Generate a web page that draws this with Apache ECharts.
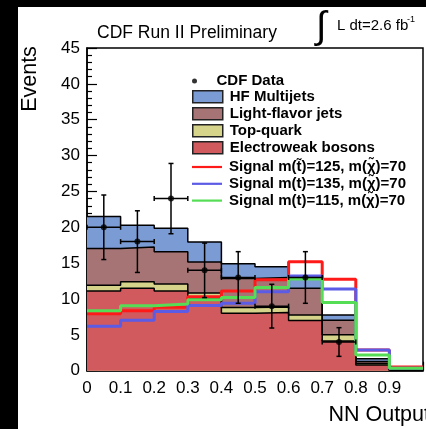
<!DOCTYPE html>
<html><head><meta charset="utf-8">
<script src="https://cdn.jsdelivr.net/npm/echarts@6/dist/echarts.min.js"></script>
<style>html,body{margin:0;padding:0;background:#fff}#c{width:426px;height:429px}</style>
</head><body><div id="c"></div>
<script>
// ---- data ----
const binEdges = [0, 0.1, 0.2, 0.3, 0.4, 0.5, 0.6, 0.7, 0.8, 0.9, 1.0];
const electroweak = [11.1, 11.5, 11.1, 10.15, 8.0, 8.1, 7.0, 4.15, 0.8, 0.05];
const topQuark    = [0.8, 0.9, 1.0, 0.7, 0.8, 0.8, 0.75, 0.85, 0.2, 0];
const lightFlavor = [5.15, 4.85, 4.5, 4.3, 4.05, 4.1, 3.75, 2.05, 0.3, 0];
const hfMultijets = [4.45, 3.05, 3.25, 2.8, 2.05, 1.5, 1.5, 0.7, 0.35, 0];
const signal125 = [7.95, 8.35, 8.85, 10.3, 11.1, 12.7, 15.2, 12.75, 2.9, 0.5];
const signal135 = [6.2, 7.05, 8.25, 9.1, 9.4, 11.0, 13.2, 11.4, 2.9, 0.35];
const signal115 = [8.35, 9.05, 9.3, 9.9, 10.2, 11.6, 12.8, 9.5, 2.2, 0.35];
const dataCounts = [20, 18, 24, 14, 13, 9, 13, 4];
const dataErrors = [4.5, 4.3, 4.9, 3.8, 3.6, 3.05, 3.6, 2.0];

const names = {
  data: 'CDF Data', hf: 'HF Multijets', lf: 'Light-flavor jets', top: 'Top-quark', ew: 'Electroweak bosons',
  s125: 'Signal m(t\u0303)=125, m(\u03c7\u0303)=70',
  s135: 'Signal m(t)=135, m(\u03c7\u0303)=70',
  s115: 'Signal m(t)=115, m(\u03c7\u0303)=70'
};
const colors = { hf: '#7b9bd4', lf: '#a67474', top: '#d6d38a', ew: '#d05a5e', s125: '#ff1a1a', s135: '#5b5be6', s115: '#55dd55' };
const FONT = 'Liberation Sans, Arial, Helvetica, sans-serif';

// ---- helpers ----
function cumulate(...layers) { return layers[0].map((_, i) => layers.reduce((s, l) => s + l[i], 0)); }
function stepData(values) {
  const pts = values.map((v, i) => [binEdges[i], v]);
  pts.push([binEdges[values.length], values[values.length - 1]]);
  return pts;
}
const cumEW = electroweak.slice();
const cumTop = cumulate(electroweak, topQuark);
const cumLF = cumulate(electroweak, topQuark, lightFlavor);
const cumHF = cumulate(electroweak, topQuark, lightFlavor, hfMultijets);

function histSeries(name, values, color) {
  return {
    name, type: 'line', step: 'end', symbol: 'none', data: stepData(values), color,
    lineStyle: { color: '#000', width: 1.5 }, areaStyle: { color, opacity: 1 }, z: 2, silent: true
  };
}
function sigSeries(name, values, color) {
  return { name, type: 'line', step: 'end', symbol: 'none', showSymbol: false, data: stepData(values), color,
    lineStyle: { color, width: 3 }, z: 3, silent: true };
}
const pointData = dataCounts.map((v, i) => [(binEdges[i] + binEdges[i + 1]) / 2, v, dataErrors[i], (binEdges[i + 1] - binEdges[i]) / 2]);

const chart = echarts.init(document.getElementById('c'), null, { renderer: 'canvas' });
const legendText = { fontFamily: FONT, fontWeight: 'bold', fontSize: 15, color: '#000', lineHeight: 15, padding: [0, 0, 0, 2] };
chart.setOption({
  animation: false,
  backgroundColor: '#fff',
  grid: { left: 87, top: 48, width: 343, height: 322.7, show: true, borderColor: '#000', borderWidth: 1.5, containLabel: false },
  xAxis: {
    type: 'value', min: 0, max: 1, interval: 0.1,
    axisLine: { show: true, lineStyle: { color: '#000', width: 1.5 } },
    axisTick: { show: true, inside: true, length: 9, lineStyle: { color: '#000', width: 1.2 } },
    minorTick: { show: true, splitNumber: 5, length: 4.5, lineStyle: { color: '#000', width: 1.2 } },
    splitLine: { show: false },
    axisLabel: { color: '#000', fontFamily: FONT, fontSize: 17, margin: 9, formatter: v => (v >= 1 ? '' : String(v)) }
  },
  yAxis: {
    type: 'value', min: 0, max: 45, interval: 5,
    axisLine: { show: true, lineStyle: { color: '#000', width: 1.5 } },
    axisTick: { show: true, inside: true, length: 10, lineStyle: { color: '#000', width: 1.2 } },
    minorTick: { show: true, splitNumber: 5, length: 5, lineStyle: { color: '#000', width: 1.2 } },
    splitLine: { show: false },
    axisLabel: { color: '#000', fontFamily: FONT, fontSize: 17, margin: 7, padding: [3, 0, 0, 0] }
  },
  legend: [
    { orient: 'vertical', left: 192, top: 73.5, padding: 0, itemWidth: 30, itemHeight: 5, itemGap: 2, selectedMode: false,
      textStyle: legendText, data: [{ name: names.data, icon: 'circle', itemStyle: { color: '#000' } }] },
    { orient: 'vertical', left: 192, top: 89.2, padding: 0, itemWidth: 30, itemHeight: 12, itemGap: 2, selectedMode: false,
      textStyle: legendText,
      data: [
        { name: names.hf, icon: 'rect', itemStyle: { color: colors.hf, borderColor: '#222', borderWidth: 1.5 } },
        { name: names.lf, icon: 'rect', itemStyle: { color: colors.lf, borderColor: '#222', borderWidth: 1.5 } },
        { name: names.top, icon: 'rect', itemStyle: { color: colors.top, borderColor: '#222', borderWidth: 1.5 } },
        { name: names.ew, icon: 'rect', itemStyle: { color: colors.ew, borderColor: '#222', borderWidth: 1.5 } }
      ] },
    { orient: 'vertical', left: 192, top: 159.5, padding: 0, itemWidth: 30, itemHeight: 2.2, itemGap: 1.8, selectedMode: false,
      textStyle: legendText,
      data: [
        { name: names.s125, icon: 'rect', itemStyle: { color: colors.s125, borderWidth: 0 } },
        { name: names.s135, icon: 'rect', itemStyle: { color: colors.s135, borderWidth: 0 } },
        { name: names.s115, icon: 'rect', itemStyle: { color: colors.s115, borderWidth: 0 } }
      ] }
  ],
  series: [
    histSeries(names.hf, cumHF, colors.hf),
    histSeries(names.lf, cumLF, colors.lf),
    histSeries(names.top, cumTop, colors.top),
    histSeries(names.ew, cumEW, colors.ew),
    sigSeries(names.s125, signal125, colors.s125),
    sigSeries(names.s135, signal135, colors.s135),
    sigSeries(names.s115, signal115, colors.s115),
    {
      name: 'errors', type: 'custom', data: pointData, z: 4, silent: true,
      renderItem(params, api) {
        const x = api.value(0), y = api.value(1), e = api.value(2), hw = api.value(3);
        const c = api.coord([x, y]), t = api.coord([x, y + e]), b = api.coord([x, y - e]);
        const l = api.coord([x - hw, y]), r = api.coord([x + hw, y]);
        const st = { stroke: '#000', lineWidth: 1.5 };
        const cap = 2.5;
        const ln = (x1, y1, x2, y2) => ({ type: 'line', shape: { x1, y1, x2, y2 }, style: st });
        return { type: 'group', children: [
          ln(c[0], t[1], c[0], b[1]), ln(l[0], c[1], r[0], c[1]),
          ln(c[0] - cap, t[1], c[0] + cap, t[1]), ln(c[0] - cap, b[1], c[0] + cap, b[1]),
          ln(l[0], c[1] - cap, l[0], c[1] + cap), ln(r[0], c[1] - cap, r[0], c[1] + cap)
        ] };
      }
    },
    { name: names.data, type: 'scatter', data: pointData.map(p => [p[0], p[1]]), symbol: 'circle', symbolSize: 6,
      itemStyle: { color: '#000' }, z: 5, silent: true }
  ],
  graphic: [
    { type: 'text', x: 97, y: 33, z: 10, style: { text: 'CDF Run II Preliminary', font: '17.5px ' + FONT, fill: '#000', align: 'left', verticalAlign: 'middle' } },
    { type: 'text', x: 316, y: 28, z: 10, style: { text: '\u222b', font: '38px ' + FONT, fill: '#000', align: 'left', verticalAlign: 'middle' } },
    { type: 'text', x: 337, y: 26, z: 10, style: { text: 'L dt=2.6 fb', font: '15px ' + FONT, fill: '#000', align: 'left', verticalAlign: 'middle' } },
    { type: 'text', x: 407, y: 20, z: 10, style: { text: '-1', font: '9px ' + FONT, fill: '#000', align: 'left', verticalAlign: 'middle' } },
    { type: 'text', x: 30, y: 79, rotation: Math.PI / 2, z: 10, style: { text: 'Events', font: '21.5px ' + FONT, fill: '#000', align: 'center', verticalAlign: 'middle' } },
    { type: 'text', x: 430, y: 415, z: 10, style: { text: 'NN Output', font: '21.5px ' + FONT, fill: '#000', align: 'right', verticalAlign: 'middle' } },
    { type: 'rect', shape: { x: 0, y: 0, width: 18, height: 429 }, style: { fill: '#000' }, z: 100 },
    { type: 'rect', shape: { x: 0, y: 0, width: 426, height: 7 }, style: { fill: '#000' }, z: 100 }
  ]
});
</script></body></html>
